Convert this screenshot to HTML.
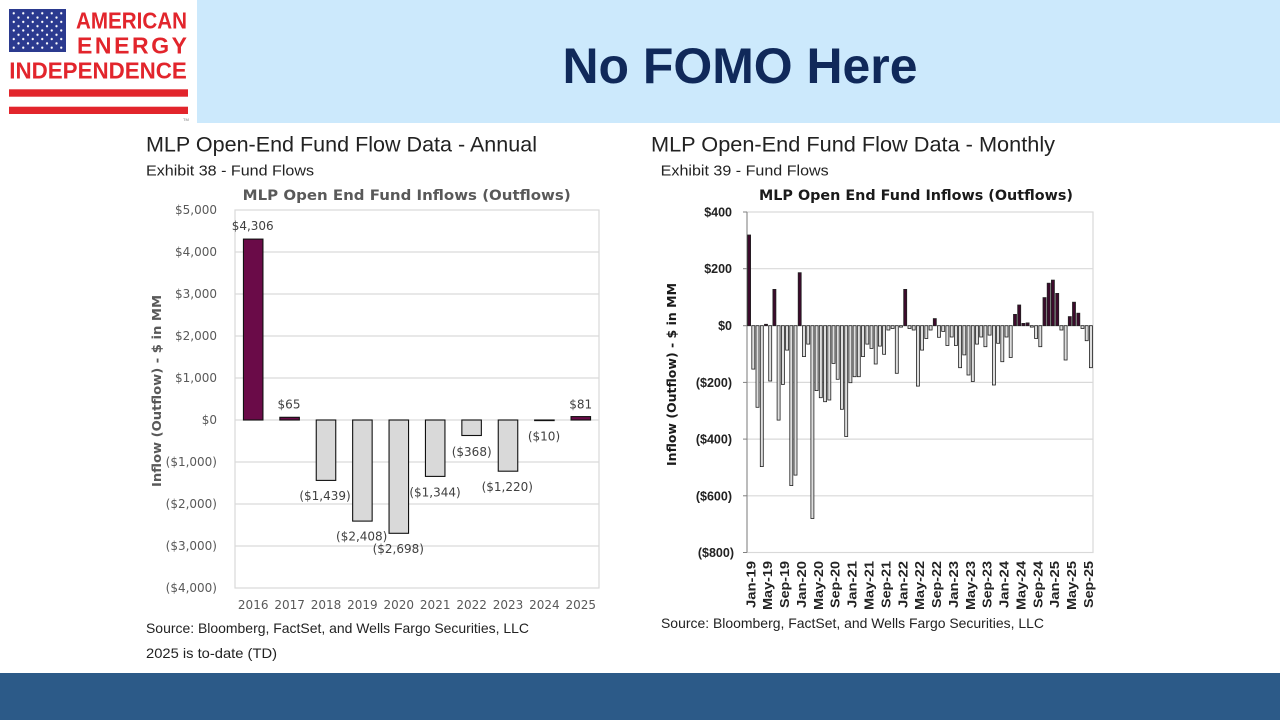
<!DOCTYPE html>
<html><head><meta charset="utf-8"><style>
html,body{margin:0;padding:0;background:#fff;}
svg{display:block;}
</style></head><body>
<svg width="1280" height="720" viewBox="0 0 1280 720" xmlns="http://www.w3.org/2000/svg">
<defs>
<pattern id="stars" patternUnits="userSpaceOnUse" x="9" y="9" width="9.5" height="8.6">
<circle cx="4.75" cy="4.3" r="1.15" fill="#fff"/>
<circle cx="0" cy="0" r="1.15" fill="#fff"/>
<circle cx="9.5" cy="0" r="1.15" fill="#fff"/>
<circle cx="0" cy="8.6" r="1.15" fill="#fff"/>
<circle cx="9.5" cy="8.6" r="1.15" fill="#fff"/>
</pattern>
</defs>
<rect x="0" y="0" width="1280" height="720" fill="#fff"/>
<!-- header band -->
<rect x="197" y="0" width="1083" height="123" fill="#cce9fc"/>
<text x="740" y="83" text-anchor="middle" font-family="Liberation Sans, sans-serif" font-weight="bold" font-size="50" fill="#10295a" textLength="355" lengthAdjust="spacingAndGlyphs">No FOMO Here</text>
<!-- logo -->
<rect x="9" y="9" width="57" height="43" fill="#2b3a8f"/>
<rect x="11" y="11" width="53" height="39.5" fill="url(#stars)"/>
<text x="76" y="28.3" font-family="Liberation Sans, sans-serif" font-weight="bold" font-size="23" fill="#e2252c" textLength="111" lengthAdjust="spacingAndGlyphs">AMERICAN</text>
<text x="77" y="53.3" font-family="Liberation Sans, sans-serif" font-weight="bold" font-size="23" fill="#e2252c" textLength="110" lengthAdjust="spacing">ENERGY</text>
<text x="9.3" y="78.3" font-family="Liberation Sans, sans-serif" font-weight="bold" font-size="23" fill="#e2252c" textLength="177.5" lengthAdjust="spacingAndGlyphs">INDEPENDENCE</text>
<rect x="9" y="89.3" width="179" height="7.4" fill="#e2252c"/>
<rect x="9" y="106.7" width="179" height="7.3" fill="#e2252c"/>
<text x="183" y="121" font-family="Liberation Sans, sans-serif" font-size="4" fill="#777">TM</text>

<!-- bottom bar -->
<rect x="0" y="673" width="1280" height="47" fill="#2c5a88"/>

<!-- ============ LEFT CHART ============ -->
<text x="146" y="151.5" font-family="Liberation Sans, sans-serif" font-size="21" fill="#222" textLength="391" lengthAdjust="spacingAndGlyphs">MLP Open-End Fund Flow Data - Annual</text>
<text x="146" y="175.5" font-family="Liberation Sans, sans-serif" font-size="15" fill="#222" textLength="168" lengthAdjust="spacingAndGlyphs">Exhibit 38 - Fund Flows</text>
<text x="406.7" y="200" text-anchor="middle" font-family="DejaVu Sans, sans-serif" font-weight="bold" font-size="14" fill="#595959" textLength="328" lengthAdjust="spacingAndGlyphs">MLP Open End Fund Inflows (Outflows)</text>

<rect x="235" y="210" width="364" height="378" fill="#fff" stroke="#d9d9d9" stroke-width="1.2"/>
<g stroke="#d9d9d9" stroke-width="1.2">
<line x1="235" y1="252" x2="599" y2="252"/>
<line x1="235" y1="294" x2="599" y2="294"/>
<line x1="235" y1="336" x2="599" y2="336"/>
<line x1="235" y1="378" x2="599" y2="378"/>
<line x1="235" y1="420" x2="599" y2="420"/>
<line x1="235" y1="462" x2="599" y2="462"/>
<line x1="235" y1="504" x2="599" y2="504"/>
<line x1="235" y1="546" x2="599" y2="546"/>
</g>
<g font-family="DejaVu Sans, sans-serif" font-size="12" fill="#595959" text-anchor="end">
<text x="217" y="214">$5,000</text>
<text x="217" y="256">$4,000</text>
<text x="217" y="298">$3,000</text>
<text x="217" y="340">$2,000</text>
<text x="217" y="382">$1,000</text>
<text x="217" y="424">$0</text>
<text x="217" y="466">($1,000)</text>
<text x="217" y="508">($2,000)</text>
<text x="217" y="550">($3,000)</text>
<text x="217" y="592">($4,000)</text>
</g>
<text transform="translate(161,391) rotate(-90)" text-anchor="middle" font-family="DejaVu Sans, sans-serif" font-weight="bold" font-size="12" fill="#595959" textLength="192" lengthAdjust="spacingAndGlyphs">Inflow (Outflow) - $ in MM</text>

<g stroke="#111" stroke-width="1.1">
<rect x="243.45" y="239.1" width="19.5" height="180.9" fill="#6a0b48"/>
<rect x="279.85" y="417.3" width="19.5" height="2.7" fill="#6a0b48"/>
<rect x="316.25" y="420" width="19.5" height="60.4" fill="#d9d9d9"/>
<rect x="352.65" y="420" width="19.5" height="101.1" fill="#d9d9d9"/>
<rect x="389.05" y="420" width="19.5" height="113.3" fill="#d9d9d9"/>
<rect x="425.45" y="420" width="19.5" height="56.4" fill="#d9d9d9"/>
<rect x="461.85" y="420" width="19.5" height="15.5" fill="#d9d9d9"/>
<rect x="498.25" y="420" width="19.5" height="51.2" fill="#d9d9d9"/>
<rect x="534.65" y="420" width="19.5" height="0.6" fill="#d9d9d9"/>
<rect x="571.05" y="416.6" width="19.5" height="3.4" fill="#6a0b48"/>
</g>
<g font-family="DejaVu Sans, sans-serif" font-size="12" fill="#404040" text-anchor="middle">
<text x="252.7" y="230">$4,306</text>
<text x="289" y="408.5">$65</text>
<text x="580.7" y="408.5">$81</text>
<text x="325" y="500">($1,439)</text>
<text x="361.7" y="540.5">($2,408)</text>
<text x="398.3" y="552.8">($2,698)</text>
<text x="435" y="496.5">($1,344)</text>
<text x="471.7" y="456">($368)</text>
<text x="507.3" y="491">($1,220)</text>
<text x="544" y="440.5">($10)</text>
</g>
<g font-family="DejaVu Sans, sans-serif" font-size="12" fill="#595959" text-anchor="middle">
<text x="253.2" y="609">2016</text>
<text x="289.6" y="609">2017</text>
<text x="326" y="609">2018</text>
<text x="362.4" y="609">2019</text>
<text x="398.8" y="609">2020</text>
<text x="435.2" y="609">2021</text>
<text x="471.6" y="609">2022</text>
<text x="508" y="609">2023</text>
<text x="544.4" y="609">2024</text>
<text x="580.8" y="609">2025</text>
</g>
<text x="146" y="633" font-family="Liberation Sans, sans-serif" font-size="14" fill="#222" textLength="383" lengthAdjust="spacingAndGlyphs">Source: Bloomberg, FactSet, and Wells Fargo Securities, LLC</text>
<text x="146" y="658" font-family="Liberation Sans, sans-serif" font-size="14" fill="#222" textLength="131" lengthAdjust="spacingAndGlyphs">2025 is to-date (TD)</text>

<!-- ============ RIGHT CHART ============ -->
<text x="651" y="151.5" font-family="Liberation Sans, sans-serif" font-size="21" fill="#222" textLength="404" lengthAdjust="spacingAndGlyphs">MLP Open-End Fund Flow Data - Monthly</text>
<text x="660.7" y="175.5" font-family="Liberation Sans, sans-serif" font-size="15" fill="#222" textLength="168" lengthAdjust="spacingAndGlyphs">Exhibit 39 - Fund Flows</text>
<text x="916" y="200" text-anchor="middle" font-family="DejaVu Sans, sans-serif" font-weight="bold" font-size="14" fill="#1a1a1a" textLength="314" lengthAdjust="spacingAndGlyphs">MLP Open End Fund Inflows (Outflows)</text>

<rect x="747" y="212" width="346" height="340.5" fill="#fff" stroke="#d9d9d9" stroke-width="1.2"/>
<g stroke="#d9d9d9" stroke-width="1.2">
<line x1="747" y1="268.7" x2="1093" y2="268.7"/>
<line x1="747" y1="325.7" x2="1093" y2="325.7"/>
<line x1="747" y1="382.4" x2="1093" y2="382.4"/>
<line x1="747" y1="439.1" x2="1093" y2="439.1"/>
<line x1="747" y1="495.8" x2="1093" y2="495.8"/>
</g>
<g stroke="#808080" stroke-width="1">
<line x1="747" y1="212" x2="747" y2="552.5"/>
<line x1="743" y1="212" x2="747" y2="212"/>
<line x1="743" y1="268.7" x2="747" y2="268.7"/>
<line x1="743" y1="325.7" x2="747" y2="325.7"/>
<line x1="743" y1="382.4" x2="747" y2="382.4"/>
<line x1="743" y1="439.1" x2="747" y2="439.1"/>
<line x1="743" y1="495.8" x2="747" y2="495.8"/>
<line x1="743" y1="552.5" x2="747" y2="552.5"/>
</g>
<g font-family="Liberation Sans, sans-serif" font-weight="bold" font-size="12.5" fill="#222" text-anchor="end">
<text x="732" y="216.5">$400</text>
<text x="732" y="273.2">$200</text>
<text x="732" y="330.2">$0</text>
<text x="732" y="386.9">($200)</text>
<text x="732" y="443.6">($400)</text>
<text x="732" y="500.3">($600)</text>
<text x="734" y="557">($800)</text>
</g>
<text transform="translate(676,374.5) rotate(-90)" text-anchor="middle" font-family="DejaVu Sans, sans-serif" font-weight="bold" font-size="12" fill="#1a1a1a" textLength="183" lengthAdjust="spacingAndGlyphs">Inflow (Outflow) - $ in MM</text>

<!-- monthly bars -->
<g stroke="#222" stroke-width="0.8">
<rect x="747.6" y="235.0" width="3" height="90.7" fill="#3d0a2c"/>
<rect x="751.8" y="325.7" width="3" height="43.4" fill="#dedede"/>
<rect x="756.0" y="325.7" width="3" height="81.6" fill="#dedede"/>
<rect x="760.3" y="325.7" width="3" height="140.9" fill="#dedede"/>
<rect x="764.5" y="324.3" width="3" height="1.4" fill="#3d0a2c"/>
<rect x="768.7" y="325.7" width="3" height="55.3" fill="#dedede"/>
<rect x="772.9" y="289.4" width="3" height="36.3" fill="#3d0a2c"/>
<rect x="777.1" y="325.7" width="3" height="94.4" fill="#dedede"/>
<rect x="781.4" y="325.7" width="3" height="58.7" fill="#dedede"/>
<rect x="785.6" y="325.7" width="3" height="24.4" fill="#dedede"/>
<rect x="789.8" y="325.7" width="3" height="159.9" fill="#dedede"/>
<rect x="794.0" y="325.7" width="3" height="149.4" fill="#dedede"/>
<rect x="798.2" y="272.7" width="3" height="53.0" fill="#3d0a2c"/>
<rect x="802.5" y="325.7" width="3" height="30.9" fill="#dedede"/>
<rect x="806.7" y="325.7" width="3" height="18.4" fill="#dedede"/>
<rect x="810.9" y="325.7" width="3" height="192.8" fill="#dedede"/>
<rect x="815.1" y="325.7" width="3" height="64.9" fill="#dedede"/>
<rect x="819.3" y="325.7" width="3" height="72.0" fill="#dedede"/>
<rect x="823.6" y="325.7" width="3" height="76.0" fill="#dedede"/>
<rect x="827.8" y="325.7" width="3" height="74.3" fill="#dedede"/>
<rect x="832.0" y="325.7" width="3" height="37.7" fill="#dedede"/>
<rect x="836.2" y="325.7" width="3" height="53.6" fill="#dedede"/>
<rect x="840.4" y="325.7" width="3" height="83.6" fill="#dedede"/>
<rect x="844.7" y="325.7" width="3" height="110.8" fill="#dedede"/>
<rect x="848.9" y="325.7" width="3" height="57.0" fill="#dedede"/>
<rect x="853.1" y="325.7" width="3" height="51.0" fill="#dedede"/>
<rect x="857.3" y="325.7" width="3" height="51.0" fill="#dedede"/>
<rect x="861.5" y="325.7" width="3" height="30.9" fill="#dedede"/>
<rect x="865.8" y="325.7" width="3" height="18.4" fill="#dedede"/>
<rect x="870.0" y="325.7" width="3" height="22.7" fill="#dedede"/>
<rect x="874.2" y="325.7" width="3" height="38.3" fill="#dedede"/>
<rect x="878.4" y="325.7" width="3" height="20.4" fill="#dedede"/>
<rect x="882.6" y="325.7" width="3" height="28.6" fill="#dedede"/>
<rect x="886.9" y="325.7" width="3" height="4.3" fill="#dedede"/>
<rect x="891.1" y="325.7" width="3" height="2.8" fill="#dedede"/>
<rect x="895.3" y="325.7" width="3" height="47.6" fill="#dedede"/>
<rect x="899.5" y="325.7" width="3" height="1.4" fill="#dedede"/>
<rect x="903.7" y="289.4" width="3" height="36.3" fill="#3d0a2c"/>
<rect x="908.0" y="325.7" width="3" height="2.8" fill="#dedede"/>
<rect x="912.2" y="325.7" width="3" height="4.3" fill="#dedede"/>
<rect x="916.4" y="325.7" width="3" height="60.4" fill="#dedede"/>
<rect x="920.6" y="325.7" width="3" height="24.4" fill="#dedede"/>
<rect x="924.8" y="325.7" width="3" height="12.8" fill="#dedede"/>
<rect x="929.1" y="325.7" width="3" height="4.3" fill="#dedede"/>
<rect x="933.3" y="318.6" width="3" height="7.1" fill="#3d0a2c"/>
<rect x="937.5" y="325.7" width="3" height="11.6" fill="#dedede"/>
<rect x="941.7" y="325.7" width="3" height="5.7" fill="#dedede"/>
<rect x="945.9" y="325.7" width="3" height="19.8" fill="#dedede"/>
<rect x="950.2" y="325.7" width="3" height="11.3" fill="#dedede"/>
<rect x="954.4" y="325.7" width="3" height="19.8" fill="#dedede"/>
<rect x="958.6" y="325.7" width="3" height="42.0" fill="#dedede"/>
<rect x="962.8" y="325.7" width="3" height="29.2" fill="#dedede"/>
<rect x="967.0" y="325.7" width="3" height="49.3" fill="#dedede"/>
<rect x="971.3" y="325.7" width="3" height="55.8" fill="#dedede"/>
<rect x="975.5" y="325.7" width="3" height="18.4" fill="#dedede"/>
<rect x="979.7" y="325.7" width="3" height="11.3" fill="#dedede"/>
<rect x="983.9" y="325.7" width="3" height="21.0" fill="#dedede"/>
<rect x="988.1" y="325.7" width="3" height="9.4" fill="#dedede"/>
<rect x="992.4" y="325.7" width="3" height="59.3" fill="#dedede"/>
<rect x="996.6" y="325.7" width="3" height="17.6" fill="#dedede"/>
<rect x="1000.8" y="325.7" width="3" height="36.0" fill="#dedede"/>
<rect x="1005.0" y="325.7" width="3" height="11.3" fill="#dedede"/>
<rect x="1009.2" y="325.7" width="3" height="31.8" fill="#dedede"/>
<rect x="1013.5" y="314.4" width="3" height="11.3" fill="#3d0a2c"/>
<rect x="1017.7" y="305.0" width="3" height="20.7" fill="#3d0a2c"/>
<rect x="1021.9" y="323.4" width="3" height="2.3" fill="#3d0a2c"/>
<rect x="1026.1" y="322.9" width="3" height="2.8" fill="#3d0a2c"/>
<rect x="1030.3" y="325.7" width="3" height="1.4" fill="#dedede"/>
<rect x="1034.6" y="325.7" width="3" height="12.8" fill="#dedede"/>
<rect x="1038.8" y="325.7" width="3" height="21.0" fill="#dedede"/>
<rect x="1043.0" y="297.6" width="3" height="28.1" fill="#3d0a2c"/>
<rect x="1047.2" y="283.2" width="3" height="42.5" fill="#3d0a2c"/>
<rect x="1051.4" y="280.1" width="3" height="45.6" fill="#3d0a2c"/>
<rect x="1055.7" y="293.4" width="3" height="32.3" fill="#3d0a2c"/>
<rect x="1059.9" y="325.7" width="3" height="4.3" fill="#dedede"/>
<rect x="1064.1" y="325.7" width="3" height="34.3" fill="#dedede"/>
<rect x="1068.3" y="316.6" width="3" height="9.1" fill="#3d0a2c"/>
<rect x="1072.5" y="302.2" width="3" height="23.5" fill="#3d0a2c"/>
<rect x="1076.8" y="313.2" width="3" height="12.5" fill="#3d0a2c"/>
<rect x="1081.0" y="325.7" width="3" height="2.8" fill="#dedede"/>
<rect x="1085.2" y="325.7" width="3" height="15.0" fill="#dedede"/>
<rect x="1089.4" y="325.7" width="3" height="42.0" fill="#dedede"/>
</g>

<!-- monthly x labels -->
<g font-family="Liberation Sans, sans-serif" font-weight="bold" font-size="13" fill="#222" text-anchor="end">
<text transform="translate(755.3,561) rotate(-90)" textLength="47" lengthAdjust="spacingAndGlyphs">Jan-19</text>
<text transform="translate(772.2,561) rotate(-90)" textLength="49" lengthAdjust="spacingAndGlyphs">May-19</text>
<text transform="translate(789.1,561) rotate(-90)" textLength="47" lengthAdjust="spacingAndGlyphs">Sep-19</text>
<text transform="translate(806.0,561) rotate(-90)" textLength="47" lengthAdjust="spacingAndGlyphs">Jan-20</text>
<text transform="translate(822.8,561) rotate(-90)" textLength="49" lengthAdjust="spacingAndGlyphs">May-20</text>
<text transform="translate(839.7,561) rotate(-90)" textLength="47" lengthAdjust="spacingAndGlyphs">Sep-20</text>
<text transform="translate(856.6,561) rotate(-90)" textLength="47" lengthAdjust="spacingAndGlyphs">Jan-21</text>
<text transform="translate(873.5,561) rotate(-90)" textLength="49" lengthAdjust="spacingAndGlyphs">May-21</text>
<text transform="translate(890.4,561) rotate(-90)" textLength="47" lengthAdjust="spacingAndGlyphs">Sep-21</text>
<text transform="translate(907.3,561) rotate(-90)" textLength="47" lengthAdjust="spacingAndGlyphs">Jan-22</text>
<text transform="translate(924.2,561) rotate(-90)" textLength="49" lengthAdjust="spacingAndGlyphs">May-22</text>
<text transform="translate(941.0,561) rotate(-90)" textLength="47" lengthAdjust="spacingAndGlyphs">Sep-22</text>
<text transform="translate(957.9,561) rotate(-90)" textLength="47" lengthAdjust="spacingAndGlyphs">Jan-23</text>
<text transform="translate(974.8,561) rotate(-90)" textLength="49" lengthAdjust="spacingAndGlyphs">May-23</text>
<text transform="translate(991.7,561) rotate(-90)" textLength="47" lengthAdjust="spacingAndGlyphs">Sep-23</text>
<text transform="translate(1008.6,561) rotate(-90)" textLength="47" lengthAdjust="spacingAndGlyphs">Jan-24</text>
<text transform="translate(1025.5,561) rotate(-90)" textLength="49" lengthAdjust="spacingAndGlyphs">May-24</text>
<text transform="translate(1042.4,561) rotate(-90)" textLength="47" lengthAdjust="spacingAndGlyphs">Sep-24</text>
<text transform="translate(1059.2,561) rotate(-90)" textLength="47" lengthAdjust="spacingAndGlyphs">Jan-25</text>
<text transform="translate(1076.1,561) rotate(-90)" textLength="49" lengthAdjust="spacingAndGlyphs">May-25</text>
<text transform="translate(1093.0,561) rotate(-90)" textLength="47" lengthAdjust="spacingAndGlyphs">Sep-25</text>
</g>
<text x="661" y="628" font-family="Liberation Sans, sans-serif" font-size="14" fill="#222" textLength="383" lengthAdjust="spacingAndGlyphs">Source: Bloomberg, FactSet, and Wells Fargo Securities, LLC</text>
</svg>
</body></html>
